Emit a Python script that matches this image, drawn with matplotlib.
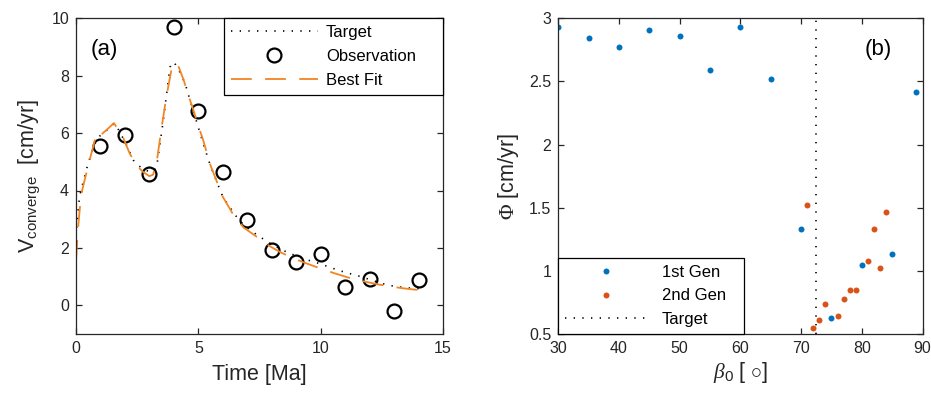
import matplotlib
matplotlib.use("Agg")
import matplotlib.pyplot as plt

plt.rcParams['font.family'] = ['Liberation Sans', 'DejaVu Sans']
plt.rcParams['mathtext.fontset'] = 'custom'
plt.rcParams['mathtext.rm'] = 'Liberation Sans'
plt.rcParams['mathtext.it'] = 'Liberation Serif:italic'
plt.rcParams['mathtext.sf'] = 'Liberation Serif'
plt.rcParams['mathtext.bf'] = 'Liberation Sans:bold'

# ---- panel (a): convergence velocity through time ----
obs_time = [1, 2, 3, 4, 5, 6, 7, 8, 9, 10, 11, 12, 13, 14]
obs_vel = [5.54, 5.93, 4.57, 9.70, 6.76, 4.65, 2.96, 1.91, 1.50, 1.80,
           0.63, 0.90, -0.21, 0.89]

target_time = [0.0, 0.05, 0.12, 0.2, 0.45, 0.7, 0.9, 1.2, 1.5, 1.6, 1.75,
               2.0, 2.35, 2.55, 2.8, 3.0, 3.2, 3.3, 3.57, 3.84, 4.0, 4.2,
               4.46, 4.66, 5.0, 5.25, 5.5, 6.0, 6.5, 6.85, 7.4, 8.0, 8.5,
               9.0, 9.5, 10.0, 10.66, 11.07, 11.44, 12.0, 12.43, 12.77,
               13.1, 13.5, 14.0, 14.3]
target_vel = [2.4, 3.0, 3.6, 4.0, 4.8, 5.5, 5.85, 6.05, 6.3, 6.32, 6.1,
              5.7, 5.05, 4.87, 4.72, 4.66, 4.7, 4.85, 6.45, 8.3, 8.48, 8.2,
              7.73, 7.15, 6.2, 5.5, 4.85, 3.78, 3.15, 2.8, 2.45, 2.12, 1.9,
              1.72, 1.57, 1.44, 1.24, 1.13, 1.05, 0.9, 0.78, 0.7, 0.65,
              0.61, 0.58, 0.56]

fit_time = [0.0, 0.05, 0.1, 0.17, 0.25, 0.45, 0.6, 0.8, 0.88, 0.92, 1.1,
            1.3, 1.55, 1.7, 1.9, 2.2, 2.5, 2.75, 3.0, 3.15, 3.3, 3.5, 3.7,
            3.9, 4.05, 4.2, 4.4, 4.6, 4.8, 5.0, 5.2, 5.5, 6.0, 6.4, 6.85,
            7.4, 7.9, 8.35, 8.9, 9.45, 10.0, 10.55, 11.0, 11.4, 11.95,
            12.4, 12.8, 13.4, 13.8, 14.2]
fit_vel = [1.55, 2.25, 2.85, 3.5, 4.0, 4.7, 5.2, 5.85, 5.95, 5.85, 6.0,
           6.15, 6.35, 6.15, 5.9, 5.28, 4.85, 4.64, 4.5, 4.55, 5.0, 6.2,
           7.3, 8.2, 8.45, 8.3, 7.85, 7.3, 6.8, 6.25, 5.75, 4.87, 3.78,
           3.2, 2.71, 2.38, 2.07, 1.85, 1.63, 1.45, 1.28, 1.12, 1.0, 0.9,
           0.8, 0.72, 0.66, 0.59, 0.55, 0.52]

# ---- panel (b): misfit against initial angle ----
gen1_beta = [30, 35, 40, 45, 50, 55, 60, 65, 70, 75, 80, 85, 89]
gen1_phi = [2.934, 2.847, 2.77, 2.91, 2.857, 2.593, 2.929, 2.522, 1.333,
            0.623, 1.046, 1.133, 2.415]
gen2_beta = [71, 72, 73, 74, 76, 77, 78, 79, 81, 82, 83, 84]
gen2_phi = [1.525, 0.545, 0.613, 0.734, 0.646, 0.779, 0.85, 0.845, 1.078,
            1.333, 1.025, 1.47]
beta_target = 72.5

AXIS_COLOR = '#262626'
BLUE = '#0072BD'
RED_ORANGE = '#D95319'
FIT_ORANGE = '#F28522'

fig = plt.figure(figsize=(9.31, 3.94), dpi=100)
ax1 = fig.add_axes([76 / 931, 1 - 334 / 394, 367 / 931, 315.7 / 394])
ax2 = fig.add_axes([558.3 / 931, 1 - 334 / 394, 364.2 / 931, 315.7 / 394])


def style_axes(ax):
    for s in ax.spines.values():
        s.set_color(AXIS_COLOR)
        s.set_linewidth(0.9)
    ax.tick_params(direction='in', length=4, width=0.9, colors=AXIS_COLOR,
                   labelsize=11.5, top=True, right=True, pad=5)


def style_legend(leg):
    frame = leg.get_frame()
    frame.set_linewidth(0.9)
    frame.set_edgecolor('black')


legend_kw = dict(borderaxespad=0, fontsize=12, labelspacing=0.52,
                 fancybox=False, framealpha=1, borderpad=0.42, mode='expand')

# panel (a)
ax1.plot(target_time, target_vel, color='black', lw=1.2,
         linestyle=(0, (0.8, 4.4)), label='Target')
ax1.plot(obs_time, obs_vel, linestyle='none', marker='o', ms=10,
         mfc='none', mec='black', mew=1.6, label='Observation')
ax1.plot(fit_time, fit_vel, color=FIT_ORANGE, lw=1.3,
         linestyle=(0, (11.5, 7.4)), label='Best Fit')
ax1.set_xlim(0, 15)
ax1.set_ylim(-1, 10)
ax1.set_xticks([0, 5, 10, 15])
ax1.set_yticks([0, 2, 4, 6, 8, 10])
style_axes(ax1)
ax1.set_xlabel('Time [Ma]', fontsize=15.5, color=AXIS_COLOR, labelpad=6)
ax1.set_ylabel(r'V$_{\mathrm{converge}}$  [cm/yr]', fontsize=15.5,
               color=AXIS_COLOR, labelpad=7)
ax1.text(0.6, 8.9, '(a)', fontsize=16, va='center', color='black')
leg1 = ax1.legend(loc='upper left', bbox_to_anchor=(0.403, 0, 0.597, 1),
                  handlelength=5.2, handletextpad=0.5, **legend_kw)
style_legend(leg1)

# panel (b)
ax2.plot(gen1_beta, gen1_phi, linestyle='none', marker='o', ms=4.3,
         color=BLUE, mec='none', label='1st Gen')
ax2.plot(gen2_beta, gen2_phi, linestyle='none', marker='o', ms=4.3,
         color=RED_ORANGE, mec='none', label='2nd Gen')
ax2.axvline(beta_target, color='black', lw=1.2,
            linestyle=(0, (0.8, 4.4)), label='Target')
ax2.set_xlim(30, 90)
ax2.set_ylim(0.5, 3)
ax2.set_xticks([30, 40, 50, 60, 70, 80, 90])
ax2.set_yticks([0.5, 1, 1.5, 2, 2.5, 3])
ax2.set_yticklabels(['0.5', '1', '1.5', '2', '2.5', '3'])
style_axes(ax2)
ax2.set_xlabel(r'$\beta_0$ [ $\circ$]', fontsize=15.5, color=AXIS_COLOR,
               labelpad=3)
ax2.set_ylabel(r'$\mathsf{\Phi}$ [cm/yr]', fontsize=15.5, color=AXIS_COLOR,
               labelpad=6)
ax2.text(82.7, 2.75, '(b)', fontsize=16, va='center', ha='center',
         color='black')
leg2 = ax2.legend(loc='lower left', bbox_to_anchor=(0, 0, 0.51, 1),
                  handlelength=4.9, handletextpad=0.9, numpoints=1,
                  **legend_kw)
style_legend(leg2)

fig.savefig('out.png', dpi=100)
